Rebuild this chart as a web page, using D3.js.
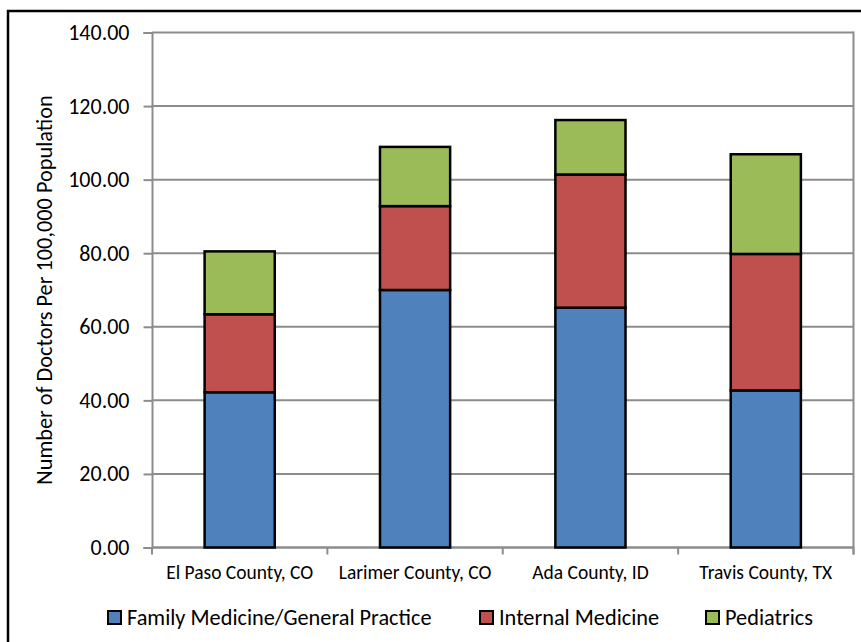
<!DOCTYPE html>
<html>
<head>
<meta charset="utf-8">
<script src="https://cdn.jsdelivr.net/npm/d3@7"></script>
<style>
  html, body { margin: 0; padding: 0; background: #fff; }
  svg { display: block; font-family: Carlito, "Open Sans", Lato, sans-serif; }
</style>
</head>
<body>
<svg id="chart" width="861" height="642"></svg>
<script>
// Physician supply by county, stacked by specialty
const counties = ["El Paso County, CO", "Larimer County, CO", "Ada County, ID", "Travis County, TX"];
const seriesNames = ["Family Medicine/General Practice", "Internal Medicine", "Pediatrics"];
const familyMedicine = [42.2, 70.0, 65.2, 42.7];
const internalMedicine = [21.2, 22.8, 36.2, 37.1];
const pediatrics = [17.1, 16.1, 14.8, 27.1];
const yTicks = [0, 20, 40, 60, 80, 100, 120, 140];
const colors = ["#4f81bd", "#c0504d", "#9bbb59"];

const fontStack = 'Carlito, "Open Sans", Lato, sans-serif';
const svg = d3.select("#chart");

// outer chart frame
svg.append("rect")
  .attr("x", 8).attr("y", 11)
  .attr("width", 900).attr("height", 700)
  .attr("fill", "#fff").attr("stroke", "#000").attr("stroke-width", 2.5);

const plot = { left: 152, right: 853.5, top: 32.5, bottom: 547.5 };

const x = d3.scaleBand()
  .domain(counties)
  .range([plot.left, plot.right])
  .paddingInner(0.6)
  .paddingOuter(0.3);

const y = d3.scaleLinear()
  .domain([0, 140])
  .range([plot.bottom, plot.top]);

// gridlines
svg.append("g")
  .selectAll("line")
  .data(yTicks)
  .join("line")
  .attr("x1", plot.left).attr("x2", plot.right)
  .attr("y1", d => y(d)).attr("y2", d => y(d))
  .attr("stroke", "#8c8c8c").attr("stroke-width", 2);

// right plot border
svg.append("line")
  .attr("x1", plot.right).attr("x2", plot.right)
  .attr("y1", plot.top - 1).attr("y2", plot.bottom + 7)
  .attr("stroke", "#8c8c8c").attr("stroke-width", 2);

// y axis
const yAxis = svg.append("g")
  .attr("transform", `translate(${plot.left},0)`)
  .call(d3.axisLeft(y).tickValues(yTicks).tickFormat(d3.format(".2f")).tickSize(8.5).tickPadding(14));
yAxis.select(".domain").attr("stroke", "#8c8c8c").attr("stroke-width", 2);
yAxis.selectAll(".tick line").attr("stroke", "#8c8c8c").attr("stroke-width", 2);
yAxis.selectAll(".tick text")
  .attr("font-family", fontStack)
  .attr("font-size", 22).attr("fill", "#000");

// x axis: category boundaries as ticks
const bounds = d3.range(counties.length + 1).map(i => plot.left + i * (plot.right - plot.left) / counties.length);
svg.append("line")
  .attr("x1", plot.left).attr("x2", plot.right)
  .attr("y1", plot.bottom).attr("y2", plot.bottom)
  .attr("stroke", "#8c8c8c").attr("stroke-width", 2);
svg.append("g").selectAll("line")
  .data(bounds)
  .join("line")
  .attr("x1", d => d).attr("x2", d => d)
  .attr("y1", plot.bottom).attr("y2", plot.bottom + 7)
  .attr("stroke", "#8c8c8c").attr("stroke-width", 2);

svg.append("g").selectAll("text")
  .data(counties)
  .join("text")
  .attr("x", d => x(d) + x.bandwidth() / 2)
  .attr("y", 579)
  .attr("text-anchor", "middle")
  .attr("font-size", 19.5)
  .attr("fill", "#000")
  .text(d => d);

// stacked bars
const rows = counties.map((c, i) => ({
  county: c,
  [seriesNames[0]]: familyMedicine[i],
  [seriesNames[1]]: internalMedicine[i],
  [seriesNames[2]]: pediatrics[i]
}));
const stacked = d3.stack().keys(seriesNames)(rows);

svg.append("g").selectAll("g")
  .data(stacked)
  .join("g")
  .attr("fill", (d, i) => colors[i])
  .selectAll("rect")
  .data(d => d)
  .join("rect")
  .attr("x", d => x(d.data.county))
  .attr("width", x.bandwidth())
  .attr("y", d => y(d[1]))
  .attr("height", d => y(d[0]) - y(d[1]))
  .attr("stroke", "#000")
  .attr("stroke-width", 2.5);

// y axis title
svg.append("text")
  .attr("transform", `translate(51.5,${(plot.top + plot.bottom) / 2}) rotate(-90)`)
  .attr("text-anchor", "middle")
  .attr("font-size", 22.3)
  .attr("fill", "#000")
  .text("Number of Doctors Per 100,000 Population");

// legend
const legendX = [108, 480, 706];
const legend = svg.append("g").selectAll("g")
  .data(seriesNames)
  .join("g")
  .attr("transform", (d, i) => `translate(${legendX[i]},611)`);
legend.append("rect")
  .attr("width", 13).attr("height", 13)
  .attr("fill", (d, i) => colors[i])
  .attr("stroke", "#000").attr("stroke-width", 2);
legend.append("text")
  .attr("x", 19).attr("y", 14)
  .attr("font-size", 22.3)
  .attr("fill", "#000")
  .text(d => d);
</script>
</body>
</html>
